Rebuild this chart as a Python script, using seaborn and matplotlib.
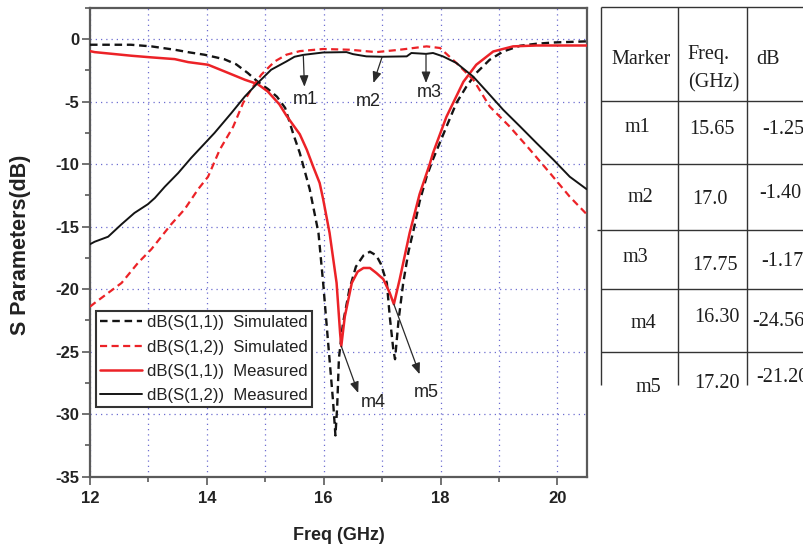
import matplotlib
matplotlib.use("Agg")
import matplotlib.pyplot as plt
from matplotlib.ticker import MultipleLocator, FixedLocator
import seaborn as sns

# ---- trace data: frequency (GHz) and magnitude (dB) ----
s11_sim_freq = [12.0, 12.7, 13.05, 13.45, 13.7, 13.96, 14.3, 14.5, 14.7, 14.87, 15.05, 15.2,
                15.34, 15.48, 15.59, 15.76, 15.91, 15.99, 16.07, 16.16, 16.2, 16.23, 16.26,
                16.33, 16.44, 16.55, 16.68, 16.79, 16.9, 16.98, 17.08, 17.13, 17.19, 17.22,
                17.28, 17.36, 17.45, 17.55, 17.64, 17.76, 17.87, 18.1, 18.27, 18.44, 18.61,
                18.84, 19.07, 19.36, 19.64, 19.93, 20.5]
s11_sim_db = [-0.44, -0.44, -0.57, -0.84, -1.05, -1.24, -1.6, -2.0, -2.7, -3.4, -4.0, -4.6,
              -5.5, -7.6, -9.1, -12.0, -15.5, -19.5, -24.0, -29.0, -31.7, -29.4, -25.5,
              -22.7, -20.0, -18.2, -17.3, -17.0, -17.3, -18.0, -19.5, -22.2, -24.8, -25.6,
              -22.5, -19.5, -17.0, -15.0, -13.0, -11.0, -9.6, -7.0, -5.1, -3.8, -2.7,
              -1.64, -0.98, -0.52, -0.36, -0.26, -0.17]

s12_sim_freq = [12.0, 12.08, 12.31, 12.54, 12.82, 13.05, 13.22, 13.39, 13.62, 13.85, 14.02,
                14.22, 14.45, 14.62, 14.76, 14.93, 15.16, 15.36, 15.59, 15.99, 16.45, 16.9,
                17.3, 17.76, 17.99, 18.27, 18.56, 18.84, 19.18, 19.53, 19.87, 20.21, 20.5]
s12_sim_db = [-21.4, -21.1, -20.3, -19.5, -17.9, -16.8, -15.8, -14.8, -13.6, -12.0, -11.0,
              -8.84, -7.0, -5.1, -4.0, -2.84, -1.78, -1.24, -0.95, -0.78, -0.84, -1.03,
              -0.84, -0.57, -0.7, -1.9, -3.24, -5.38, -6.98, -8.84, -10.7, -12.6, -14.0]

s11_meas_freq = [12.0, 12.08, 12.71, 13.05, 13.45, 13.68, 14.02, 14.3, 14.65, 14.87, 15.04,
                 15.24, 15.36, 15.59, 15.71, 15.82, 15.93, 15.99, 16.1, 16.22, 16.28, 16.30,
                 16.36, 16.48, 16.58, 16.68, 16.79, 16.9, 17.02, 17.13, 17.20, 17.3, 17.47,
                 17.64, 17.82, 17.87, 18.1, 18.39, 18.61, 18.9, 19.24, 19.64, 20.5]
s11_meas_db = [-0.95, -1.03, -1.32, -1.45, -1.59, -1.83, -2.04, -2.57, -3.24, -3.59, -4.17,
               -5.2, -6.1, -7.6, -8.84, -10.2, -11.5, -12.8, -15.5, -19.5, -23.5, -24.56,
               -22.2, -19.5, -18.6, -18.3, -18.3, -18.7, -19.2, -20.3, -21.20, -19.2, -15.5,
               -12.4, -9.9, -9.1, -6.2, -3.4, -2.04, -0.98, -0.57, -0.5, -0.5]

s12_meas_freq = [12.0, 12.08, 12.31, 12.54, 12.76, 12.99, 13.11, 13.28, 13.51, 13.73, 13.85,
                 14.13, 14.42, 14.65, 14.87, 15.1, 15.36, 15.5, 15.65, 15.99, 16.39, 16.5,
                 16.73, 17.0, 17.42, 17.5, 17.75, 17.87, 18.04, 18.27, 18.56, 18.79, 19.07,
                 19.36, 19.64, 19.93, 20.21, 20.5]
s12_meas_db = [-16.4, -16.2, -15.8, -14.8, -13.9, -13.2, -12.7, -11.8, -10.7, -9.5, -8.9,
               -7.5, -5.9, -4.58, -3.5, -2.44, -1.78, -1.4, -1.25, -1.06, -1.03, -1.19,
               -1.37, -1.40, -1.37, -1.1, -1.17, -1.1, -1.37, -1.9, -3.0, -4.18, -5.64,
               -6.98, -8.3, -9.64, -11.0, -12.0]

# ---- marker table ----
marker_names = ["m1", "m2", "m3", "m4", "m5"]
marker_freq = [15.65, 17.0, 17.75, 16.30, 17.20]
marker_db = [-1.25, -1.40, -1.17, -24.56, -21.20]
marker_freq_text = ["15.65", "17.0", "17.75", "16.30", "17.20"]
marker_db_text = ["-1.25", "-1.40", "-1.17", "-24.56", "-21.20"]

# arrow tips and label anchors for the marker callouts (GHz, dB)
marker_tip = [(15.67, -3.8), (16.85, -3.5), (17.75, -3.5), (16.59, -28.3), (17.64, -26.8)]
marker_label_pos = [(15.68, -4.85), (16.76, -5.0), (17.8, -4.3), (16.85, -29.1), (17.76, -28.3)]

x_ticks = [12, 14, 16, 18, 20]
y_ticks = [0, -5, -10, -15, -20, -25, -30, -35]

sns.set_theme(style="ticks")
plt.rcParams["font.family"] = ["Liberation Sans", "DejaVu Sans"]

W, H = 804, 552
fig = plt.figure(figsize=(W / 100, H / 100), dpi=100)


def px(x0, y0, w, h):
    return [x0 / W, 1 - (y0 + h) / H, w / W, h / H]


# table drawn in pixel space on a full-figure overlay
tax = fig.add_axes([0, 0, 1, 1])
tax.set_xlim(0, W)
tax.set_ylim(H, 0)
tax.axis("off")

ax = fig.add_axes(px(90, 8, 496.7, 468.7))

RED = "#ec2227"
BLACK = "#141414"
DASH = (0, (3.2, 2.0))
traces = [
    ("dB(S(1,1))  Simulated", s11_sim_freq, s11_sim_db, BLACK, DASH, 1.7),
    ("dB(S(1,2))  Simulated", s12_sim_freq, s12_sim_db, RED, DASH, 1.6),
    ("dB(S(1,1))  Measured", s11_meas_freq, s11_meas_db, RED, "-", 1.8),
    ("dB(S(1,2))  Measured", s12_meas_freq, s12_meas_db, BLACK, "-", 1.4),
]
for label, f, d, color, ls, lw in traces:
    sns.lineplot(x=f, y=d, ax=ax, color=color, linestyle=ls, linewidth=lw,
                 label=label, estimator=None, sort=False, zorder=3)

ax.set_xlim(12, 20.5)
ax.set_ylim(-35, 2.5)
ax.xaxis.set_major_locator(FixedLocator(x_ticks))
ax.xaxis.set_minor_locator(MultipleLocator(1))
ax.yaxis.set_major_locator(FixedLocator(y_ticks))
ax.yaxis.set_minor_locator(MultipleLocator(2.5))
ax.set_xticklabels([str(t) for t in x_ticks])
ax.set_yticklabels([str(t) for t in y_ticks])

grid_kw = dict(color="#6d6dd0", linewidth=0.9, linestyle=(0, (1, 3.2)))
ax.grid(True, which="both", axis="x", **grid_kw)
ax.grid(True, which="major", axis="y", **grid_kw)
ax.set_axisbelow(True)

for sp in ax.spines.values():
    sp.set_visible(True)
    sp.set_color("#5a5a5a")
    sp.set_linewidth(1.6)

ax.tick_params(which="major", direction="out", length=6, width=1.2, color="#5a5a5a",
               labelsize=12, labelcolor="#222222")
ax.tick_params(which="minor", direction="out", length=3.5, width=1.2, color="#5a5a5a")
ax.tick_params(axis="y", which="major", pad=1.5)
ax.tick_params(axis="x", which="major", pad=4)
for lab in ax.get_xticklabels() + ax.get_yticklabels():
    lab.set_fontweight("bold")

ax.set_xlabel("")
ax.set_ylabel("")
fig.text(338.7 / W, 1 - 535 / H, "Freq (GHz)", ha="center", va="center",
         fontsize=13, fontweight="bold", color="#222222")
fig.text(21 / W, 1 - 245 / H, "S Parameters(dB)", ha="center", va="center",
         rotation=90, fontsize=15.5, fontweight="bold", color="#222222")

leg = ax.legend(loc="upper left", bbox_to_anchor=(0.012, 0.3535), borderaxespad=0,
                frameon=True, fancybox=False, fontsize=12, handlelength=2.5,
                handletextpad=0.3, labelspacing=0.56, borderpad=0.25)
leg.get_frame().set_edgecolor("#333333")
leg.get_frame().set_linewidth(1.5)
leg.get_frame().set_alpha(1)
for t in leg.get_texts():
    t.set_color("#222222")

# marker callouts
for name, f, d, tip, lp in zip(marker_names, marker_freq, marker_db, marker_tip, marker_label_pos):
    ax.annotate("", xy=tip, xytext=(f, d),
                arrowprops=dict(arrowstyle="-|>,head_length=0.55,head_width=0.22",
                                color="#2a2a2a", lw=0.9, shrinkA=0, shrinkB=0), zorder=5)
    ax.text(lp[0], lp[1], name, ha="center", va="center", fontsize=13,
            color="#222222", zorder=5)

# marker table
line_kw = dict(color="#333333", linewidth=1.0, solid_capstyle="butt")
table_left, table_right, table_bottom = 600.7, 806, 385
for xv in [table_left, 678.3, 746.7]:
    tax.plot([xv, xv], [7.3, table_bottom], **line_kw)
for yv in [7.3, 100.7, 164, 230, 289, 351.7]:
    tax.plot([table_left if yv != 230 else 597, table_right], [yv, yv], **line_kw)

serif = dict(family=["Liberation Serif", "DejaVu Serif"], fontsize=14.5, color="#1e1e1e")
tax.text(640.7, 60, "Marker", ha="center", va="center", **serif)
tax.text(687.7, 55, "Freq.", ha="left", va="center", **serif)
tax.text(688, 83, "(GHz)", ha="left", va="center", **serif)
tax.text(756.7, 60, "dB", ha="left", va="center", **serif)

name_xy = [(637, 128), (640, 197), (635, 258), (643, 323), (648, 387)]
freq_xy = [(712, 130), (710, 200), (715, 265), (716.5, 318), (717, 383)]
db_xy = [(762.7, 130), (759.3, 193), (761.7, 262), (752, 322), (756.7, 377)]
for name, ft, dt, nxy, fxy, dxy in zip(marker_names, marker_freq_text, marker_db_text,
                                       name_xy, freq_xy, db_xy):
    tax.text(*nxy, name, ha="center", va="center", **serif)
    tax.text(*fxy, ft, ha="center", va="center", **serif)
    tax.text(*dxy, dt, ha="left", va="center", **serif)

fig.savefig("out.png", dpi=100)
